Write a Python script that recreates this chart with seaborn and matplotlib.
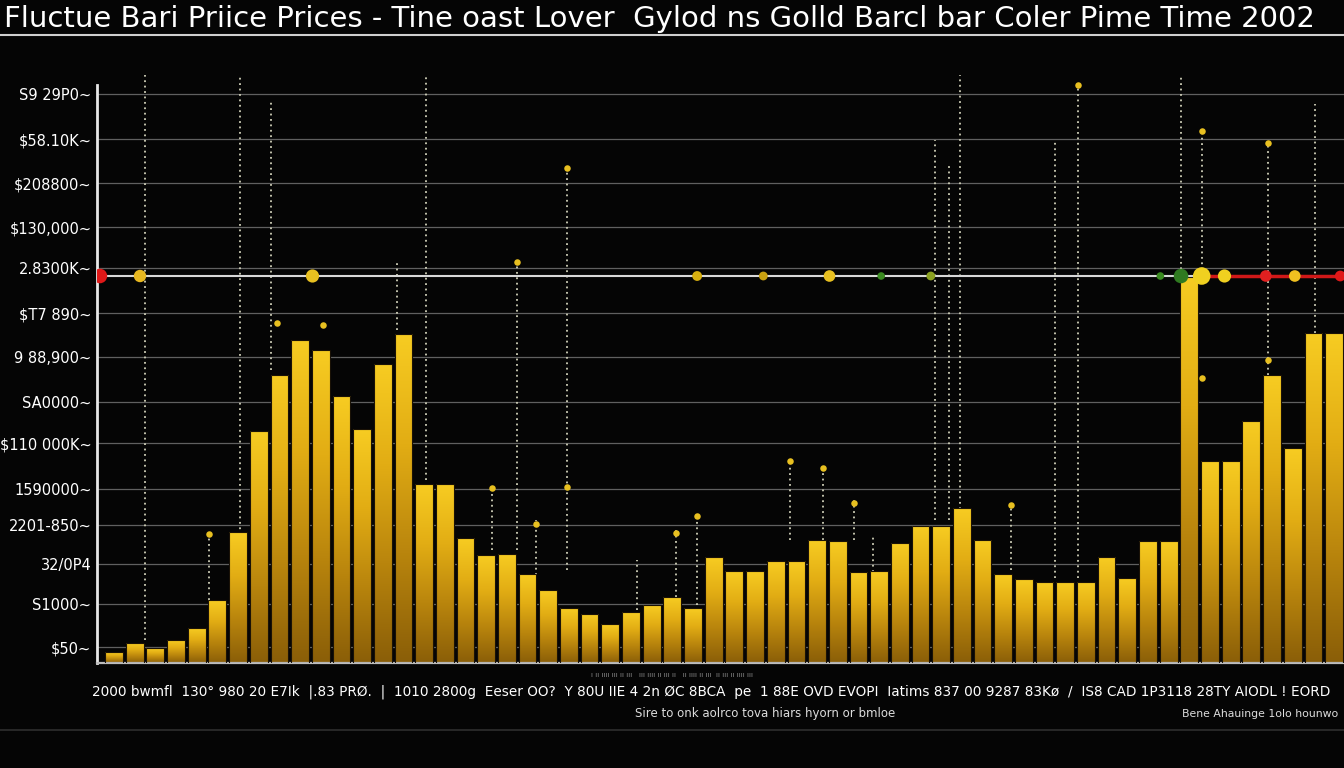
import numpy as np
import matplotlib.pyplot as plt
import matplotlib.colors as mcolors
from matplotlib.lines import Line2D
import seaborn as sns
import pandas as pd

# dados (altura em unidades do eixo)
titulo = "Fluctue Bari Priice Prices - Tine oast Lover  Gylod ns Golld Barcl bar Coler Pime Time 2002"

precos = [11, 20, 15, 23, 35, 63, 131, 232, 288, 323,
          313, 267, 234, 299, 329, 179, 179, 125, 108, 109,
          89, 73, 55, 49, 39, 51, 58, 66, 55, 106,
          92, 92, 102, 102, 123, 122, 91, 92, 120, 137,
          137, 155, 123, 89, 84, 81, 81, 81, 106, 85,
          122, 122, 386, 202, 202, 242, 288, 215, 330, 330]
periodos = [f"p{i:02d}" for i in range(len(precos))]

y_ticks = [569, 524, 480, 436, 395, 350, 306, 261, 220, 174, 138, 99, 59, 16]
y_labels = ["S9 29P0~", "$58.10K~", "$208800~", "$130,000~", "2.8300K~", "$T7 890~",
            "9 88,900~", "SA0000~", "$110 000K~", "1590000~", "2201-850~", "32/0P4",
            "S1000~", "$50~"]

# linhas pontilhadas verticais: posição, base, topo
vlinha_x = [1.5, 6.1, 7.6, 13.7, 15.1, 19.5, 21.9, 32.7, 34.3, 39.7, 40.4, 40.9,
            43.4, 45.5, 46.6, 51.6, 52.6, 55.8, 58.1, 4.6, 18.3, 20.4, 25.3, 27.2,
            28.2, 35.8, 36.7]
vlinha_base = [23, 123, 293, 333, 183, 113, 93, 123, 123, 143, 143, 143,
               93, 85, 85, 123, 388, 288, 330, 63, 113, 88, 53, 66,
               58, 123, 91]
vlinha_topo = [588, 588, 563, 403, 588, 401, 495, 203, 198, 523, 498, 588,
               163, 523, 581, 588, 533, 520, 559, 133, 178, 143, 103, 133,
               148, 163, 128]

# pontos amarelos no topo de algumas linhas
pontos_x = [21.9, 19.5, 7.9, 10.1, 18.3, 20.4, 21.9, 32.7, 34.3, 35.8, 52.6, 55.8,
            55.8, 52.6, 43.4, 27.2, 28.2, 4.6, 46.6]
pontos_y = [495, 401, 340, 338, 175, 139, 176, 202, 195, 160, 532, 520,
            303, 285, 158, 130, 147, 129, 578]

# linha de referência e marcadores sobre ela
ref_nivel = 387
ref_corte = 52.6
marc_x = [-0.68, 1.26, 9.6, 28.2, 31.4, 34.6, 37.1, 39.5, 50.6, 51.6, 52.6, 53.7, 55.7, 57.1, 59.3]
marc_cor = ['#e01818', '#e8b820', '#e8c020', '#d8b010', '#c8a010', '#e8c020', '#3a8a20',
            '#8aa020', '#3a8a20', '#2f7a20', '#f0d020', '#f0d020', '#e02020', '#f0c020', '#e01818']
marc_tam = [110, 80, 90, 50, 40, 70, 30, 40, 30, 110, 160, 90, 70, 70, 60]

texto_x = ("2000 bwmfl  130\u00b0 980 20 E7Ik  |.83 PR\u00d8.  |  1010 2800g  Eeser OO?  Y 80U IIE 4 2n \u00d8C 8BCA  pe"
           "  1 88E OVD EVOPI  Iatims 837 00 9287 83K\u00f8  /  IS8 CAD 1P3118 28TY AIODL ! EORD")
texto_sub1 = "Sire to onk aolrco tova hiars hyorn or bmloe"
texto_sub2 = "Bene Ahauinge 1olo hounwo"
texto_mini = "ı ıı ıııı ııı ıı ııı   ııı ıııı ıı ııı ıı   ıı ıııı ıı ııı  ıı ııı ıı ıııı ııı"

df = pd.DataFrame({'periodo': periodos, 'preco': precos})

sns.set_theme(style="dark")
plt.rcParams['font.family'] = ['DejaVu Sans']

fig = plt.figure(figsize=(13.44, 7.68), dpi=100, facecolor='#050505')
ax = fig.add_axes([97 / 1344, 105 / 768, 1 - 97 / 1344, 588 / 768])
ax.set_facecolor('#050505')

sns.barplot(data=df, x='periodo', y='preco', color='#e0aa14', width=0.86,
            edgecolor='#1a1206', linewidth=0.8, ax=ax, zorder=2)

# gradiente dourado em cada barra
grad = np.linspace(0, 1, 256).reshape(-1, 1)
ouro = mcolors.LinearSegmentedColormap.from_list('ouro', ['#8a5e08', '#b9850d', '#e2ad14', '#f7cc22'])
for p in ax.patches:
    x0, y0, w, h = p.get_x(), p.get_y(), p.get_width(), p.get_height()
    im = ax.imshow(grad, extent=(x0, x0 + w, y0, y0 + h), origin='lower', cmap=ouro,
                   aspect='auto', zorder=2, interpolation='bilinear')
    im.set_clip_path(p)
    p.set_facecolor('none')
    p.set_zorder(3)

ax.vlines(vlinha_x, vlinha_base, vlinha_topo, colors='#cfcfb8', linestyles=(0, (1, 2)),
          linewidth=1.3, zorder=1)
ax.scatter(pontos_x, pontos_y, s=22, color='#e8c020', zorder=4, linewidth=0)

xmin, xmax = -0.82, 59.48
ax.plot([xmin, ref_corte], [ref_nivel, ref_nivel], color='#d8d8d8', linewidth=1.5, zorder=4)
ax.plot([ref_corte, xmax], [ref_nivel, ref_nivel], color='#d01818', linewidth=2.5, zorder=4)
ax.scatter(marc_x, [ref_nivel] * len(marc_x), s=marc_tam, c=marc_cor, zorder=5, linewidth=0)

ax.set_xlim(xmin, xmax)
ax.set_ylim(0, 588)
ax.set_yticks(y_ticks)
ax.set_yticklabels(y_labels, color='white', fontsize=10.5)
ax.set_xticks([])
ax.set_xlabel('')
ax.set_ylabel('')
ax.tick_params(axis='y', length=0, pad=4)
ax.yaxis.grid(True, color='#606060', linewidth=0.9)
ax.xaxis.grid(False)
for lado in ['top', 'right']:
    ax.spines[lado].set_visible(False)
ax.spines['left'].set_color('#e8e8e8')
ax.spines['left'].set_linewidth(2)
ax.spines['left'].set_bounds(0, 578)
ax.spines['bottom'].set_color('#bdbdbd')
ax.spines['bottom'].set_linewidth(1.6)

# título e textos
fig.text(0.003, 1 - 19 / 768, titulo, color='white', fontsize=21, ha='left', va='center')
fig.add_artist(Line2D([0, 1], [1 - 35 / 768] * 2, color='#cfcfcf', linewidth=1.5))
fig.text(0.5, 1 - 675 / 768, texto_mini, color='#8a8a8a', fontsize=5, ha='center', va='center')
fig.text(92 / 1344, 1 - 692 / 768, texto_x, color='white', fontsize=9.8, ha='left', va='center')
fig.text(765 / 1344, 1 - 714 / 768, texto_sub1, color='#dddddd', fontsize=8.5, ha='center', va='center')
fig.text(1182 / 1344, 1 - 714 / 768, texto_sub2, color='#dddddd', fontsize=7.8, ha='left', va='center')
fig.add_artist(Line2D([0, 1], [1 - 730 / 768] * 2, color='#2e2e2e', linewidth=1.2))

fig.savefig('out.png', dpi=100, facecolor=fig.get_facecolor())
